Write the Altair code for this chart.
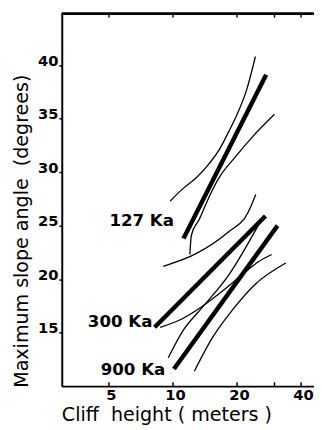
import altair as alt
import pandas as pd

# ---- data (x = cliff height in m, y = max slope angle in degrees)
s127_fit_x = [11.2, 27.4]
s127_fit_y = [23.8, 39.1]
s127_up_x = [9.7, 11.2, 12.9, 14.8, 16.5, 18.3, 19.6, 22.2, 24.4]
s127_up_y = [27.3, 28.5, 29.5, 30.8, 32.1, 33.8, 35.0, 37.7, 40.8]
s127_lo_x = [12.0, 12.2, 13.3, 14.8, 16.5, 19.6, 23.4, 30.0]
s127_lo_y = [22.3, 24.1, 25.6, 27.7, 29.5, 31.4, 33.2, 35.4]

s300_fit_x = [8.2, 27.2]
s300_fit_y = [15.5, 25.9]
s300_up_x = [9.0, 12.9, 18.2, 22.5, 24.5]
s300_up_y = [21.2, 22.4, 24.4, 26.2, 27.9]
s300_lo_x = [8.7, 10.8, 12.9, 17.1, 21.1, 25.1, 29.1]
s300_lo_y = [15.5, 16.2, 17.1, 18.9, 20.4, 21.6, 22.3]

s900_fit_x = [10.1, 31.0]
s900_fit_y = [11.6, 25.0]
s900_up_x = [9.5, 11.2, 13.8, 18.3, 25.6]
s900_up_y = [12.65, 15.25, 17.4, 20.4, 25.3]
s900_lo_x = [12.6, 15.4, 19.0, 24.3, 33.9]
s900_lo_y = [11.4, 14.6, 17.1, 19.5, 21.5]

label_text = ["127 Ka", "300 Ka", "900 Ka"]
label_x = [10.1, 8.0, 9.2]
label_y = [25.45, 16.0, 11.5]

x_tick_values = [5, 10, 20, 30, 40]
x_label_values = [5, 10, 20, 40]
y_label_values = [15, 20, 25, 30, 35, 40]

W, H = 258, 381

series = [
    ("127fit", "fit", s127_fit_x, s127_fit_y),
    ("127up", "band", s127_up_x, s127_up_y),
    ("127lo", "band", s127_lo_x, s127_lo_y),
    ("300fit", "fit", s300_fit_x, s300_fit_y),
    ("300up", "band", s300_up_x, s300_up_y),
    ("300lo", "band", s300_lo_x, s300_lo_y),
    ("900fit", "fit", s900_fit_x, s900_fit_y),
    ("900up", "band", s900_up_x, s900_up_y),
    ("900lo", "band", s900_lo_x, s900_lo_y),
]
rows = []
for name, kind, xs, ys in series:
    for i, (xv, yv) in enumerate(zip(xs, ys)):
        rows.append({"x": xv, "y": yv, "series": name, "kind": kind, "ord": i})
df = pd.DataFrame(rows)

labels_df = pd.DataFrame({"text": label_text, "x": label_x, "y": label_y})
ticks_df = pd.DataFrame({"x": x_tick_values})

xscale = alt.Scale(type="log", domain=[3, 46], nice=False)
yscale = alt.Scale(domain=[10, 44.8], nice=False, zero=False)

XT = "Cliff\u00a0 height (\u00a0meters\u00a0)"
YT = "Maximum slope angle\u00a0 (degrees)"

lines = alt.Chart(df).mark_line(color="black", interpolate="monotone", strokeCap="butt").encode(
    x=alt.X("x:Q", scale=xscale, title=XT, axis=alt.Axis(
        values=x_label_values, ticks=False, tickSize=0,
        labelPadding=2, grid=False, domainWidth=2, domainColor="black",
        labelFont="DejaVu Sans", labelFontWeight="bold", labelFontSize=15, labelColor="black",
        labelOffset=2, labelBaseline="top",
        titleFont="DejaVu Sans", titleFontSize=19.5, titleFontWeight="normal", titleColor="black",
        titleX=107, titleY=35, titleAlign="center", titleBaseline="alphabetic", titleAnchor="start")),
    y=alt.Y("y:Q", scale=yscale, title=YT, axis=alt.Axis(
        values=y_label_values, tickSize=3, tickWidth=1.5,
        tickColor="black", labelPadding=1, grid=False, domainWidth=2, domainColor="black",
        labelFont="DejaVu Sans", labelFontWeight="bold", labelFontSize=15, labelColor="black",
        labelBaseline="alphabetic",
        titleFont="DejaVu Sans", titleFontSize=19.5, titleFontWeight="normal", titleColor="black",
        titleX=-35, titleY=222, titleAngle=270, titleAlign="center", titleBaseline="alphabetic",
        titleAnchor="start")),
    detail="series:N",
    order="ord:Q",
    strokeWidth=alt.StrokeWidth("kind:N", scale=alt.Scale(domain=["fit", "band"], range=[4.5, 1.3]), legend=None),
)

text = alt.Chart(labels_df).mark_text(
    align="right", baseline="middle", font="DejaVu Sans", fontWeight="bold", fontSize=17, color="black"
).encode(
    x=alt.X("x:Q", scale=xscale, title=XT),
    y=alt.Y("y:Q", scale=yscale, title=YT),
    text="text:N",
)

bottom_ticks = alt.Chart(ticks_df).mark_rule(color="black", strokeWidth=1.5).encode(
    x=alt.X("x:Q", scale=xscale, title=XT),
    y=alt.value(H),
    y2=alt.value(H - 4),
)
top_ticks = alt.Chart(ticks_df).mark_rule(color="black", strokeWidth=1.5).encode(
    x=alt.X("x:Q", scale=xscale, title=XT),
    y=alt.value(0),
    y2=alt.value(4),
)
top_border = alt.Chart(ticks_df).mark_rule(color="black", strokeWidth=2).encode(
    x=alt.value(0), x2=alt.value(W), y=alt.value(0)
)

chart = alt.layer(lines, text, bottom_ticks, top_ticks, top_border).properties(
    width=W, height=H,
    autosize=alt.AutoSizeParams(type="none"),
    padding={"left": 55, "top": 1, "right": 0, "bottom": 38},
    background="white",
).configure_view(stroke=None)

chart.save("out.html", embed_options={"renderer": "svg", "actions": False})
